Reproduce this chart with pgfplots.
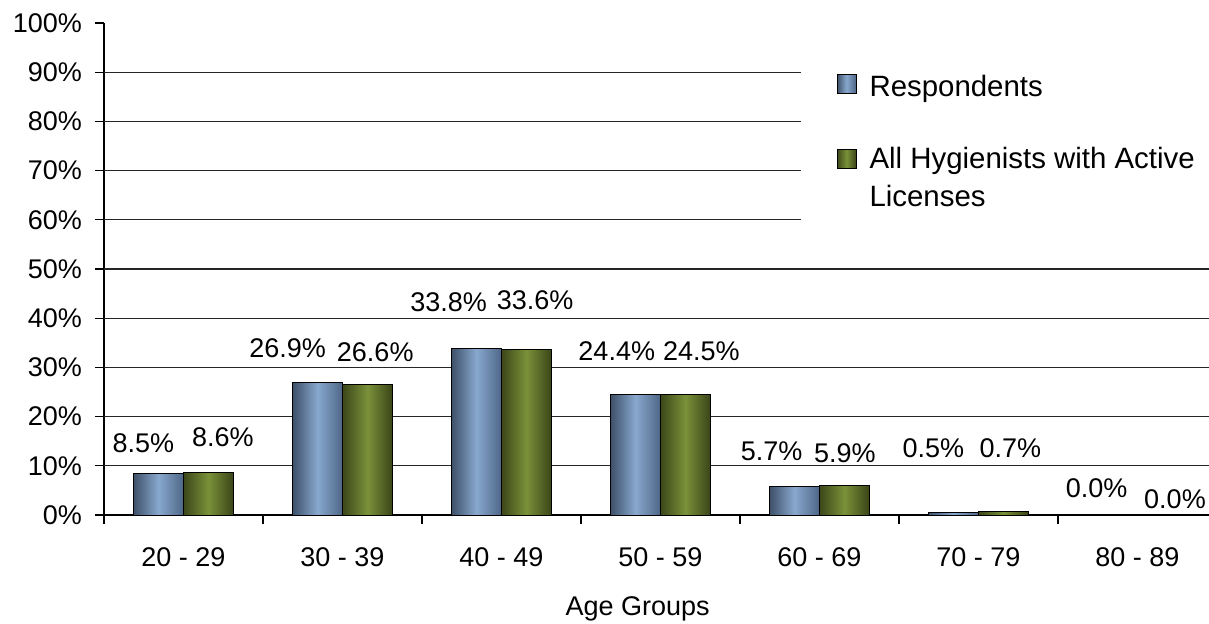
\documentclass[border=0pt]{standalone}
\usepackage{fontspec}
\setmainfont{Liberation Sans}
\usepackage{pgfplots}
\pgfplotsset{compat=1.18}
\definecolor{bl1}{HTML}{3E5069}
\definecolor{bl2}{HTML}{88A8CE}
\definecolor{bl3}{HTML}{4E6686}
\definecolor{gr1}{HTML}{3C4719}
\definecolor{gr2}{HTML}{7A9139}
\definecolor{gr3}{HTML}{3A4417}
\pgfplotsset{
  sqlegend/.style={legend image code/.code={\draw[##1] (0pt,-3pt) rectangle (9.5pt,6.5pt); \path (14pt,0pt);}},
  sqlegendup/.style={legend image code/.code={\draw[##1] (0pt,5pt) rectangle (9.5pt,14.5pt); \path (14pt,0pt);}},
  bluebar/.style={ybar, bar width=0.3145, bar shift=-0.15725, draw=black, line width=0.5pt,
    left color=bl1, right color=bl3, middle color=bl2, sqlegend},
  greenbar/.style={ybar, bar width=0.3145, bar shift=0.15725, draw=black, line width=0.5pt,
    left color=gr1, right color=gr3, middle color=gr2, sqlegendup},
}
\begin{document}
\begin{tikzpicture}
\begin{axis}[
  scale only axis, width=552.5pt, height=246pt,
  xmin=-0.5, xmax=6.45, ymin=0, ymax=100,
  axis x line*=bottom, axis y line*=left,
  axis line style={black, line width=0.6pt},
  /pgf/number format/assume math mode=true,
  ytick={0,10,...,100},
  yticklabel={\pgfmathprintnumber{\tick}\%},
  xtick={0,...,6},
  xticklabels={20 - 29,30 - 39,40 - 49,50 - 59,60 - 69,70 - 79,80 - 89},
  tick align=outside, major tick length=4.5pt,
  tick style={black, line width=0.6pt},
  xtick style={draw=none},
  extra x ticks={-0.5,0.5,1.5,2.5,3.5,4.5,5.5},
  extra x tick labels={},
  extra x tick style={xtick style={draw=black}},
  extra y ticks={10,20,...,90}, extra y tick labels={},
  extra y tick style={ymajorgrids=true, major tick length=0pt},
  major grid style={black!85, line width=0.6pt},
  tick label style={font=\fontsize{13.5}{16}\selectfont},
  yticklabel style={xshift=-3pt},
  xticklabel style={yshift=-8.5pt},
  xlabel={Age Groups},
  xlabel style={at={(axis description cs:0.483,-0.191)}, anchor=center, font=\fontsize{13.5}{16}\selectfont},
  legend style={at={(axis description cs:0.630,0.927)}, anchor=north west, fill=white, draw=none,
    font=\fontsize{14.7}{19}\selectfont, cells={align=left}, row sep=20pt, inner xsep=18pt, inner ysep=6pt},
  legend cell align=left,
]
\addplot[bluebar] coordinates {(0,8.5)};
\addlegendentry{Respondents}
\addplot[greenbar] coordinates {(0,8.6)};
\addlegendentry{All Hygienists with Active\\Licenses}
\addplot[bluebar, forget plot] coordinates {(1,26.9)};
\addplot[bluebar, forget plot] coordinates {(2,33.8)};
\addplot[bluebar, forget plot] coordinates {(3,24.4)};
\addplot[bluebar, forget plot] coordinates {(4,5.7)};
\addplot[bluebar, forget plot] coordinates {(5,0.5)};
\addplot[greenbar, forget plot] coordinates {(1,26.6)};
\addplot[greenbar, forget plot] coordinates {(2,33.6)};
\addplot[greenbar, forget plot] coordinates {(3,24.5)};
\addplot[greenbar, forget plot] coordinates {(4,5.9)};
\addplot[greenbar, forget plot] coordinates {(5,0.7)};
\addplot[draw=none, forget plot, point meta=explicit,
  nodes near coords={\pgfmathprintnumber[fixed,fixed zerofill,precision=1]{\pgfplotspointmeta}\%},
  nodes near coords style={anchor=center, inner sep=0pt, font=\fontsize{13.5}{16}\selectfont}]
  table[x=x, y=y, meta=v] {
x y v
-0.253 14.63 8.5
0.248 15.91 8.6
0.655 33.88 26.9
1.206 33.19 26.6
1.668 43.35 33.8
2.211 43.56 33.6
2.725 33.39 24.4
3.257 33.39 24.5
3.699 12.87 5.7
4.160 12.54 5.9
4.716 13.56 0.5
5.200 13.56 0.7
5.743 5.43 0.0
6.236 3.25 0.0
};
\end{axis}
\pgfresetboundingbox
\path[use as bounding box] (-52pt,-54pt) rectangle (552.5pt,257.5pt);
\end{tikzpicture}
\end{document}
